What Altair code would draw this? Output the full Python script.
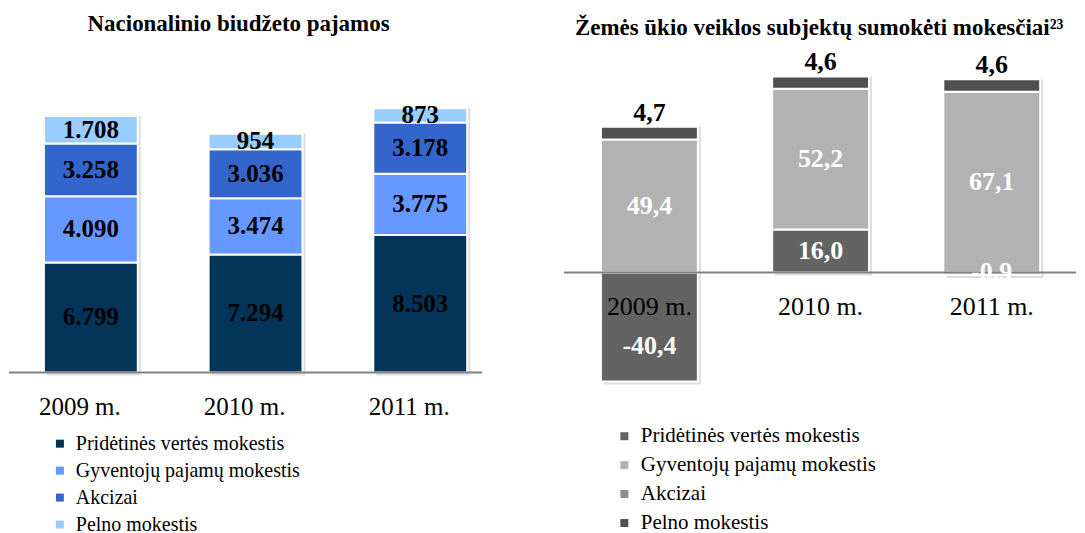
import altair as alt
import pandas as pd

# ---------------- data ----------------
years = ["2009 m.", "2010 m.", "2011 m."]
series = ["Pridėtinės vertės mokestis", "Gyventojų pajamų mokestis", "Akcizai", "Pelno mokestis"]

# Nacionalinio biudžeto pajamos
nb_pvm = [6799, 7294, 8503]
nb_gpm = [4090, 3474, 3775]
nb_akc = [3258, 3036, 3178]
nb_pelno = [1708, 954, 873]

# Žemės ūkio veiklos subjektų sumokėti mokesčiai
ag_pvm = [-40.4, 16.0, -0.9]
ag_gpm = [49.4, 52.2, 67.1]
ag_akc = [0.0, 0.0, 0.0]
ag_pelno = [4.7, 4.6, 4.6]

left_title = "Nacionalinio biudžeto pajamos"
right_title = "Žemės ūkio veiklos subjektų sumokėti mokesčiai²³"

left_colors = ["#03355a", "#6699ff", "#3366cc", "#99ccff"]
right_colors = ["#636363", "#b2b2b2", "#8c8c8c", "#505050"]

FONT = "Liberation Serif"


def stack(cols, fmt):
    rows = []
    for i, yr in enumerate(years):
        pos, neg = 0.0, 0.0
        for s, vals in zip(series, cols):
            v = vals[i]
            if v >= 0:
                y0, y1 = pos, pos + v
                pos = y1
            else:
                y0, y1 = neg + v, neg
                neg = y0
            rows.append(dict(year=yr, series=s, value=v, y0=y0, y1=y1,
                             label=fmt(v), top=(s == series[-1])))
    return pd.DataFrame(rows)


left_df = stack([nb_pvm, nb_gpm, nb_akc, nb_pelno], lambda v: f"{int(v):,}".replace(",", "."))
right_df = stack([ag_pvm, ag_gpm, ag_akc, ag_pelno], lambda v: f"{v:.1f}".replace(".", ","))
years_df = pd.DataFrame({"year": years})
zero_df = pd.DataFrame({"z": [0]})

H = 517
W1, W2 = 532, 537


def legend(x, y, fs, rowpad):
    return alt.Legend(orient="none", legendX=x, legendY=y, title=None, symbolType="square",
                      symbolSize=64, symbolStrokeWidth=0, labelFont=FONT, labelFontSize=fs,
                      labelColor="#000000", labelOffset=6, rowPadding=rowpad, padding=0,
                      labelLimit=400)


def shadow(base, xs, ys):
    return base.transform_aggregate(lo="min(y0)", hi="max(y1)", groupby=["year"]).mark_bar(
        color="#000000", opacity=0.13, xOffset=3, yOffset=3
    ).encode(x=alt.X("year:N", scale=xs, axis=None, sort=years),
             y=alt.Y("lo:Q", scale=ys, axis=None), y2="hi:Q")


# ---------------- left panel ----------------
xl = alt.Scale(domain=years, paddingInner=0.43, paddingOuter=0.327, align=0.324)
yl = alt.Scale(domain=[-9400, 22500], nice=False, zero=False)

lb = alt.Chart(left_df).transform_filter("datum.value != 0")
l_shadow = shadow(lb, xl, yl)
l_bars = lb.mark_bar(stroke="white", strokeWidth=2).encode(
    x=alt.X("year:N", scale=xl, axis=None, sort=years),
    y=alt.Y("y0:Q", scale=yl, axis=None),
    y2="y1:Q",
    color=alt.Color("series:N", scale=alt.Scale(domain=series, range=left_colors),
                    legend=legend(41, 426, 20, 7)),
)
l_rule = alt.Chart(zero_df).mark_rule(color="#808080", strokeWidth=2).encode(
    y=alt.Y("z:Q", scale=yl), x=alt.value(0), x2=alt.value(474))
l_labels = lb.transform_calculate(ym="(datum.y0 + datum.y1) / 2").mark_text(
    font=FONT, fontSize=25, fontWeight="bold", color="#000000", baseline="middle"
).encode(x=alt.X("year:N", scale=xl, sort=years), y=alt.Y("ym:Q", scale=yl), text="label:N")
l_years = alt.Chart(years_df).mark_text(
    font=FONT, fontSize=25, color="#000000", baseline="alphabetic", dx=-11
).encode(x=alt.X("year:N", scale=xl, sort=years), y=alt.value(407), text="year:N")
l_title = alt.Chart(pd.DataFrame({"t": [left_title]})).mark_text(
    font=FONT, fontSize=23, fontWeight="bold", color="#000000", baseline="alphabetic", align="center"
).encode(x=alt.value(230), y=alt.value(23), text="t:N")

left = alt.layer(l_shadow, l_bars, l_rule, l_labels, l_years, l_title).properties(width=W1, height=H)

# ---------------- right panel ----------------
xr = alt.Scale(domain=years, paddingInner=0.434, paddingOuter=0.2826, align=0.63)
yr = alt.Scale(domain=[-93.5, 98], nice=False, zero=False)

rb = alt.Chart(right_df).transform_filter("datum.value != 0")
r_shadow = shadow(rb, xr, yr)
r_bars = rb.mark_bar(stroke="white", strokeWidth=2).encode(
    x=alt.X("year:N", scale=xr, axis=None, sort=years),
    y=alt.Y("y0:Q", scale=yr, axis=None),
    y2="y1:Q",
    color=alt.Color("series:N", scale=alt.Scale(domain=series, range=right_colors),
                    legend=legend(74, 418, 21, 7)),
)
r_rule = alt.Chart(zero_df).mark_rule(color="#808080", strokeWidth=2).encode(
    y=alt.Y("z:Q", scale=yr), x=alt.value(24), x2=alt.value(537))
r_in = rb.transform_filter("!datum.top").transform_calculate(
    ym="datum.value < 0 ? datum.value * 0.7 + 1 : (datum.y0 + datum.y1) / 2"
).mark_text(font=FONT, fontSize=26, fontWeight="bold", color="#ffffff", baseline="middle").encode(
    x=alt.X("year:N", scale=xr, sort=years), y=alt.Y("ym:Q", scale=yr), text="label:N")
r_top = rb.transform_filter("datum.top").mark_text(
    font=FONT, fontSize=26, fontWeight="bold", color="#000000", baseline="bottom", dy=-1
).encode(x=alt.X("year:N", scale=xr, sort=years), y=alt.Y("y1:Q", scale=yr), text="label:N")
r_years = alt.Chart(years_df).mark_text(
    font=FONT, fontSize=26, color="#000000", baseline="alphabetic"
).encode(x=alt.X("year:N", scale=xr, sort=years), y=alt.value(307), text="year:N")
r_title = alt.Chart(pd.DataFrame({"t": [right_title]})).mark_text(
    font=FONT, fontSize=23, fontWeight="bold", color="#000000", baseline="alphabetic", align="left"
).encode(x=alt.value(35), y=alt.value(27), text="t:N")

right = alt.layer(r_shadow, r_bars, r_rule, r_in, r_top, r_years, r_title).properties(width=W2, height=H)

chart = (
    alt.hconcat(left, right, spacing=0)
    .resolve_scale(color="independent", x="independent", y="independent")
    .properties(padding=0)
    .configure_view(stroke=None)
)

chart.save("out.html", embed_options={"renderer": "svg", "actions": False})
